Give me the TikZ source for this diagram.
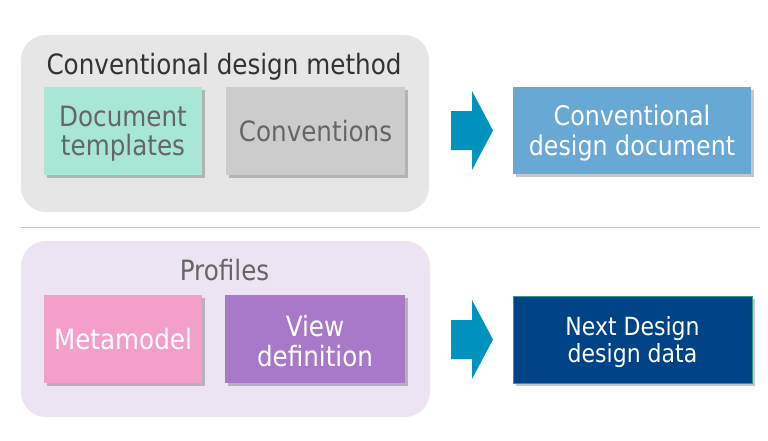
\documentclass[tikz,border=0pt]{standalone}
\usepackage{fontspec}
\setmainfont[FakeStretch=0.88]{DejaVu Sans}
\usetikzlibrary{shadows,calc}
\definecolor{grpgray}{HTML}{E6E6E6}
\definecolor{grppurple}{HTML}{EDE4F3}
\definecolor{mint}{HTML}{A8E6D5}
\definecolor{convgray}{HTML}{CCCCCC}
\definecolor{skyblue}{HTML}{67A8D5}
\definecolor{pinkbox}{HTML}{F49FC9}
\definecolor{violetbox}{HTML}{A779C8}
\definecolor{navybox}{HTML}{004386}
\definecolor{navyedge}{HTML}{2E9A8C}
\definecolor{arrowblue}{HTML}{0093BF}
\definecolor{sepgray}{HTML}{C8C8C8}
\definecolor{darktext}{HTML}{333333}
\definecolor{midtext}{HTML}{666666}
\tikzset{
  group/.style={rounded corners=25pt, inner sep=0pt, draw=none},
  itembox/.style={inner sep=0pt, align=center, draw=none,
    drop shadow={shadow xshift=3pt, shadow yshift=-3pt, fill=black, opacity=0.22}},
  boxfont/.style={font=\fontsize{28}{28.5}\selectfont},
  titlefont/.style={font=\fontsize{28}{28}\selectfont},
  blockarrow/.style={fill=arrowblue, draw=none},
}
\newcommand{\blockarrowat}[1]{%
  \fill[blockarrow] ($(#1)+(-21,-19.5)$) -- ($(#1)+(0,-19.5)$) -- ($(#1)+(0,-39.5)$)
    -- ($(#1)+(21,0)$) -- ($(#1)+(0,39.5)$) -- ($(#1)+(0,19.5)$) -- ($(#1)+(-21,19.5)$) -- cycle;}
\newcommand{\twolinetext}[5]{%
  \node[inner sep=0pt, align=center, font=\fontsize{#2}{#3}\selectfont, text=#4] (#1-text) at ($(#1)+(0,2.5)$) {#5};}
\begin{document}
\begin{tikzpicture}[x=1pt,y=-1pt]
\useasboundingbox (0,0) rectangle (768,440);
% top group
\node[group, fill=grpgray, minimum width=408pt, minimum height=177pt] (g1) at (225,123.5) {};
\node[titlefont, text=darktext, anchor=base] (t1) at (224,74) {Conventional design method};
\node[itembox, fill=mint, minimum width=158pt, minimum height=88pt] (doc) at (123,131) {};
\twolinetext{doc}{28}{29}{midtext}{Document\\templates}
\node[itembox, boxfont, fill=convgray, text=midtext, minimum width=179pt, minimum height=88pt] (conv) at (315.5,131) {Conventions};
\coordinate (a1) at (472,130.5);
\blockarrowat{a1}
\node[itembox, fill=skyblue, minimum width=238pt, minimum height=87pt] (cdd) at (632,130.5) {};
\twolinetext{cdd}{27}{29.5}{white}{Conventional\\design document}
% separator
\coordinate (s1) at (21,227);
\coordinate (s2) at (760,227);
\draw[sepgray, line width=1pt] (s1) -- (s2);
% bottom group
\node[group, fill=grppurple, minimum width=409pt, minimum height=176pt] (g2) at (225.5,329) {};
\node[titlefont, text=midtext, anchor=base] (t2) at (224.5,280) {Profiles};
\node[itembox, boxfont, fill=pinkbox, text=white, minimum width=158pt, minimum height=88pt] (meta) at (123,339) {Metamodel};
\node[itembox, fill=violetbox, minimum width=180pt, minimum height=88pt] (view) at (315,339) {};
\twolinetext{view}{28}{30}{white}{View\\definition}
\coordinate (a2) at (472,339.5);
\blockarrowat{a2}
\node[itembox, fill=navybox, draw=navyedge, line width=0.8pt, minimum width=239pt, minimum height=87pt] (nd) at (632.5,339.5) {};
\twolinetext{nd}{25}{27.5}{white}{Next Design\\design data}
\end{tikzpicture}
\end{document}
